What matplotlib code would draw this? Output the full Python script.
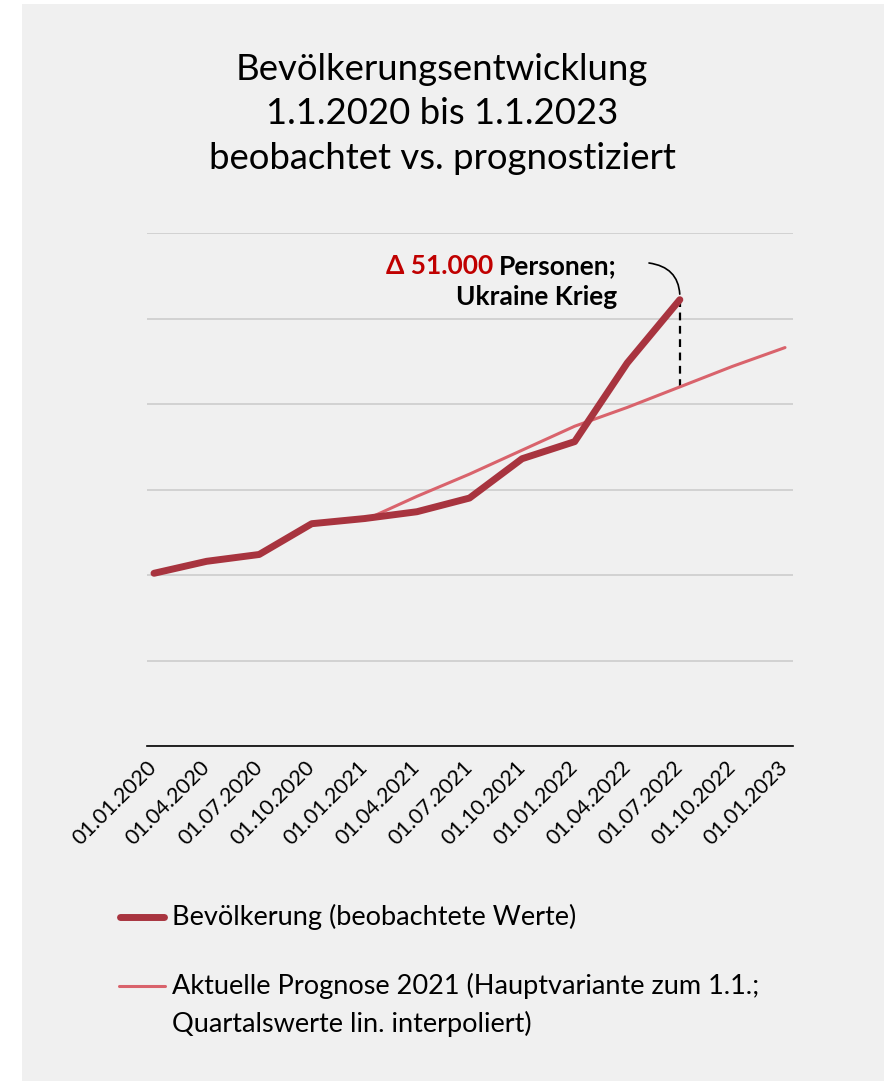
import matplotlib
matplotlib.use('Agg')
import matplotlib.pyplot as plt
from matplotlib.patches import Rectangle
from matplotlib.lines import Line2D

# quarterly dates
dates = ['01.01.2020', '01.04.2020', '01.07.2020', '01.10.2020',
         '01.01.2021', '01.04.2021', '01.07.2021', '01.10.2021',
         '01.01.2022', '01.04.2022', '01.07.2022', '01.10.2022',
         '01.01.2023']

# population in thousands (observed values up to 01.07.2022)
observed = [8901, 8908, 8912, 8930, 8933, 8937, 8945, 8968, 8978, 9024, 9061]

# forecast 2021 (starts 01.01.2021)
forecast_idx = [4, 5, 6, 7, 8, 9, 10, 11, 12]
forecast = [8932, 8946, 8959, 8973, 8987, 8998, 9010, 9022, 9033]

y_grid = [8800, 8850, 8900, 8950, 9000, 9050, 9100]

legend_labels = ['Bevölkerung (beobachtete Werte)',
                 'Aktuelle Prognose 2021 (Hauptvariante zum 1.1.;',
                 'Quartalswerte lin. interpoliert)']

obs_color = '#a8343f'
fc_color = '#d9636c'
bg = '#f0f0f0'
font = 'Lato'

plt.rcParams['font.family'] = [font, 'DejaVu Sans']

W, H = 884, 1081


def fx(px):
    return px / W


def fy(py):
    return 1 - py / H


fig = plt.figure(figsize=(W / 100, H / 100), dpi=100)
fig.patches.append(Rectangle((fx(22), 0), 1, fy(4), transform=fig.transFigure,
                             facecolor=bg, edgecolor='none', zorder=-10))

ax = fig.add_axes([fx(147), fy(746), (793 - 147) / W, (746 - 233) / H])
ax.patch.set_alpha(0)

x_obs = list(range(len(observed)))
ax.plot(forecast_idx, forecast, color=fc_color, lw=2.2, solid_capstyle='round', zorder=3)
ax.plot(x_obs, observed, color=obs_color, lw=5, solid_capstyle='round',
        solid_joinstyle='round', zorder=4)

# gap marker at 01.07.2022
gap_x = 10
ax.plot([gap_x, gap_x], [forecast[forecast_idx.index(gap_x)], observed[gap_x]],
        color='black', lw=1.6, ls=(0, (3.5, 2.5)), zorder=2)

ax.set_xlim(-0.133, 12.152)
ax.set_ylim(y_grid[0], y_grid[-1])
ax.set_yticks(y_grid)
ax.yaxis.grid(True, color='#c9c9c9', lw=1.1)
ax.set_axisbelow(True)
ax.tick_params(axis='y', left=False, labelleft=False)
ax.tick_params(axis='x', length=0, pad=13)
for s in ['top', 'right', 'left']:
    ax.spines[s].set_visible(False)
ax.spines['bottom'].set_color('black')
ax.spines['bottom'].set_linewidth(1.2)

ax.set_xticks(range(len(dates)))
ax.set_xticklabels(dates, rotation=45, ha='right', va='center', rotation_mode='anchor',
                   fontsize=15.5)

# title
fig.text(0.5, fy(114), 'Bevölkerungsentwicklung\n1.1.2020 bis 1.1.2023\nbeobachtet vs. prognostiziert',
         ha='center', va='center', fontsize=26.3, linespacing=1.42)

# annotation
t1 = fig.text(fx(617), fy(266), 'Personen;', ha='right', va='center',
              fontsize=19, fontweight='bold', color='black')
fig.text(fx(617), fy(297), 'Ukraine Krieg', ha='right', va='center',
         fontsize=19, fontweight='bold', color='black')
fig.canvas.draw()
bb = t1.get_window_extent(fig.canvas.get_renderer())
fig.text((bb.x0 - 6) / fig.bbox.width, fy(266), 'Δ 51.000', ha='right', va='center',
         fontsize=19, fontweight='bold', color='#c00000')
ax.annotate('', xy=(gap_x, observed[gap_x]), xycoords='data',
            xytext=(fx(649), fy(263)), textcoords='figure fraction',
            arrowprops=dict(arrowstyle='-', color='black', lw=1.2,
                            connectionstyle='arc3,rad=-0.45', shrinkA=0, shrinkB=4))

# legend (drawn by hand to match the layout)
fig.add_artist(Line2D([fx(120), fx(164)], [fy(917), fy(917)], color=obs_color, lw=5,
                      solid_capstyle='round', transform=fig.transFigure))
fig.add_artist(Line2D([fx(119), fx(165)], [fy(986), fy(986)], color=fc_color, lw=2.2,
                      solid_capstyle='round', transform=fig.transFigure))
fig.text(fx(172), fy(917), legend_labels[0], ha='left', va='center', fontsize=19.5)
fig.text(fx(172), fy(986), legend_labels[1], ha='left', va='center', fontsize=19.5)
fig.text(fx(172), fy(1024), legend_labels[2], ha='left', va='center', fontsize=19.5)

fig.savefig('out.png', dpi=100, facecolor='white')
